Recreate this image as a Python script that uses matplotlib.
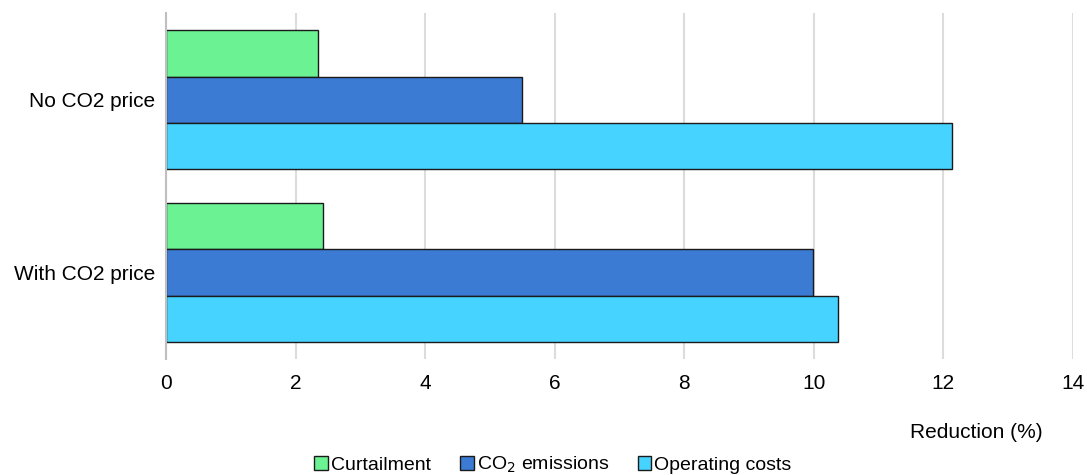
import numpy as np
import matplotlib.pyplot as plt

plt.rcParams['font.family'] = ['Liberation Sans', 'DejaVu Sans']

scenarios = ['No CO2 price', 'With CO2 price']
series = ['Curtailment', 'CO$_2$ emissions', 'Operating costs']
curtailment = [2.34, 2.42]
co2_emissions = [5.50, 9.99]
operating_costs = [12.13, 10.37]
colors = ['#6AF293', '#3C7BD4', '#46D3FF']
xticks = [0, 2, 4, 6, 8, 10, 12, 14]

fig = plt.figure(figsize=(10.87, 4.75), dpi=100)
ax = fig.add_axes([0.1527, 0.2442, 0.8344, 0.7284])

pos = np.arange(len(scenarios))
h = 0.266
for i, (vals, lab, c) in enumerate(zip([curtailment, co2_emissions, operating_costs], series, colors)):
    ax.barh(pos + (i - 1) * h, vals, height=h, color=c, edgecolor='#1a1a1a',
            linewidth=1.0, label=lab, zorder=3)

ax.set_ylim(1.5, -0.5)
ax.set_xlim(0, 14)
ax.set_xticks(xticks)
ax.set_yticks(pos)
ax.set_yticklabels(scenarios)
ax.tick_params(axis='both', length=0, labelsize=15)
ax.tick_params(axis='x', pad=11)
ax.tick_params(axis='y', pad=8)
ax.grid(axis='x', color='#DCDCDC', linewidth=1.5, zorder=0)
for s in ['top', 'right', 'bottom']:
    ax.spines[s].set_visible(False)
ax.spines['left'].set_color('#BFBFBF')
ax.spines['left'].set_linewidth(1.5)
ax.spines['left'].set_zorder(4)

ax.set_xlabel('Reduction (%)', fontsize=15, ha='right')
ax.xaxis.set_label_coords((1043 - 166) / 907, -(423 - 359) / 346)

fig.legend(loc='center', bbox_to_anchor=(553 / 1087, 1 - 465 / 475), ncol=3,
           frameon=False, fontsize=14, handlelength=0.7, handleheight=0.7,
           handletextpad=0.15, columnspacing=1.5)

fig.savefig('out.png', dpi=100)
